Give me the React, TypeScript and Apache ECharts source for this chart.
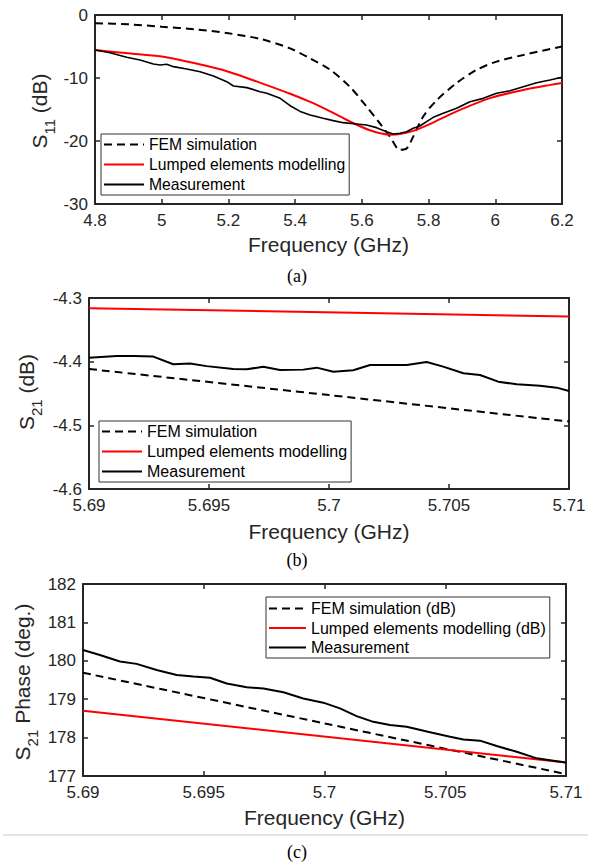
import React, { useEffect, useRef } from 'react';
import * as echarts from 'echarts';

// ---------- Panel (a): S11 ----------
const s11FemFreq = [4.8, 4.9, 5.0, 5.1, 5.2, 5.3, 5.385, 5.445, 5.505, 5.564, 5.615, 5.654, 5.684, 5.714, 5.734, 5.754, 5.784, 5.825, 5.884, 5.944, 6.004, 6.084, 6.2];
const s11FemDb = [-1.3, -1.48, -1.86, -2.27, -2.9, -3.86, -5.3, -6.9, -8.7, -11.4, -14.6, -17.2, -19.3, -21.4, -21.2, -19.3, -16.1, -13.5, -10.8, -8.7, -7.4, -6.35, -5.0];

const s11LumpFreq = [4.8, 4.9, 5.0, 5.1, 5.2, 5.3, 5.385, 5.445, 5.505, 5.564, 5.624, 5.684, 5.714, 5.754, 5.804, 5.884, 5.984, 6.084, 6.2];
const s11LumpDb = [-5.56, -6.08, -6.6, -7.67, -9.0, -10.85, -12.5, -13.8, -15.3, -16.9, -18.3, -19.0, -18.9, -18.4, -17.3, -15.3, -13.2, -11.9, -10.8];

const s11MeasFreq = [4.8, 4.845, 4.895, 4.935, 4.975, 4.995, 5.015, 5.035, 5.075, 5.115, 5.155, 5.195, 5.215, 5.255, 5.295, 5.315, 5.355, 5.385, 5.415, 5.445, 5.484, 5.514, 5.544, 5.584, 5.614, 5.644, 5.674, 5.694, 5.714, 5.734, 5.754, 5.774, 5.794, 5.814, 5.844, 5.884, 5.924, 5.964, 6.004, 6.044, 6.084, 6.124, 6.164, 6.2];
const s11MeasDb = [-5.56, -5.98, -6.72, -7.14, -7.78, -7.94, -7.83, -8.2, -8.57, -9.0, -9.68, -10.58, -11.27, -11.53, -12.17, -12.43, -13.23, -14.4, -15.3, -15.87, -16.4, -16.77, -17.09, -17.3, -17.46, -17.88, -18.52, -18.89, -18.78, -18.52, -17.99, -17.62, -16.93, -16.24, -15.61, -14.81, -13.76, -13.23, -12.43, -12.01, -11.38, -10.74, -10.32, -9.89];

// ---------- Panel (b): S21 magnitude ----------
const s21FemFreq = [5.69, 5.7, 5.71];
const s21FemDb = [-4.4115, -4.4525, -4.494];

const s21LumpFreq = [5.69, 5.71];
const s21LumpDb = [-4.316, -4.329];

const s21MeasFreq = [5.69, 5.69115, 5.69185, 5.69268, 5.69351, 5.69421, 5.6949, 5.69601, 5.69657, 5.69726, 5.69796, 5.69893, 5.69949, 5.70018, 5.70101, 5.70171, 5.70324, 5.70407, 5.70476, 5.7056, 5.70629, 5.70705, 5.70782, 5.70879, 5.70949, 5.71];
const s21MeasDb = [-4.394, -4.391, -4.391, -4.392, -4.404, -4.403, -4.407, -4.4115, -4.412, -4.408, -4.413, -4.4125, -4.4094, -4.4157, -4.4136, -4.4052, -4.4052, -4.4005, -4.4078, -4.4183, -4.4209, -4.4314, -4.4356, -4.4377, -4.4408, -4.4461];

// ---------- Panel (c): S21 phase ----------
const phFemFreq = [5.69, 5.7, 5.71];
const phFemDeg = [179.69, 178.37, 177.05];

const phLumpFreq = [5.69, 5.71];
const phLumpDeg = [178.7, 177.35];

const phMeasFreq = [5.69, 5.6907, 5.69153, 5.69222, 5.69305, 5.69388, 5.69457, 5.69526, 5.69595, 5.69678, 5.69747, 5.6983, 5.69912, 5.69995, 5.70064, 5.70133, 5.70202, 5.70271, 5.7034, 5.70437, 5.7052, 5.70575, 5.70644, 5.70713, 5.70796, 5.70879, 5.70948, 5.71];
const phMeasDeg = [180.28, 180.15, 179.98, 179.92, 179.76, 179.63, 179.59, 179.56, 179.41, 179.31, 179.28, 179.18, 179.02, 178.91, 178.76, 178.56, 178.41, 178.33, 178.28, 178.14, 178.02, 177.95, 177.92, 177.78, 177.63, 177.46, 177.4, 177.35];

const legendAB = ['FEM simulation', 'Lumped elements modelling', 'Measurement'];
const legendC = ['FEM simulation (dB)', 'Lumped elements modelling (dB)', 'Measurement'];

const FONT = '"Liberation Sans", Arial, Helvetica, sans-serif';
const SERIF = '"Liberation Serif", "Times New Roman", serif';
const AX = '#262626';

const pair = (xs: number[], ys: number[]) => xs.map((x, i) => [x, ys[i]]);
const fmt = (v: number) => String(parseFloat(v.toFixed(4)));

function xAxes(gridIndex: number, min: number, max: number, interval: number, nameGap: number) {
  const common = {
    type: 'value', gridIndex, min, max, interval,
    axisLine: { show: true, onZero: false, lineStyle: { color: AX, width: 2 } },
    axisTick: { show: true, inside: true, length: 5, lineStyle: { color: AX, width: 1.5 } },
    splitLine: { show: false },
  };
  return [
    {
      ...common, position: 'bottom',
      name: 'Frequency (GHz)', nameLocation: 'middle', nameGap,
      nameTextStyle: { fontSize: 21, color: AX, fontFamily: FONT },
      axisLabel: { show: true, color: AX, fontSize: 17, fontFamily: FONT, margin: 8, showMinLabel: true, showMaxLabel: true, formatter: fmt },
    },
    { ...common, position: 'top', axisLabel: { show: false } },
  ];
}

function yAxes(gridIndex: number, min: number, max: number, interval: number) {
  const common = {
    type: 'value', gridIndex, min, max, interval,
    axisLine: { show: true, onZero: false, lineStyle: { color: AX, width: 2 } },
    axisTick: { show: true, inside: true, length: 5, lineStyle: { color: AX, width: 1.5 } },
    splitLine: { show: false },
  };
  return [
    {
      ...common, position: 'left',
      axisLabel: { show: true, color: AX, fontSize: 17, fontFamily: FONT, margin: 7, showMinLabel: true, showMaxLabel: true, formatter: fmt },
    },
    { ...common, position: 'right', axisLabel: { show: false } },
  ];
}

function lineSeries(name: string, data: number[][], idx: number, kind: 'fem' | 'lump' | 'meas', width = 2) {
  const base: any = {
    type: 'line', name, data, xAxisIndex: idx, yAxisIndex: idx,
    symbol: 'none', showSymbol: false, z: 3,
  };
  if (kind === 'fem') {
    base.lineStyle = { color: '#000', width: 2, type: [8, 5] };
    base.itemStyle = { color: '#000' };
    base.smooth = 0.3;
  } else if (kind === 'lump') {
    base.lineStyle = { color: '#ff0000', width: 2 };
    base.itemStyle = { color: '#ff0000' };
    base.smooth = 0.3;
  } else {
    base.lineStyle = { color: '#000', width };
    base.itemStyle = { color: '#000' };
  }
  return base;
}

function legend(data: string[], left: number, top: number, fontSize: number, itemWidth: number, itemGap: number, padTop: number) {
  return {
    data, left, top, orient: 'vertical',
    itemWidth, itemHeight: 14, itemGap,
    padding: [padTop, 4, 2, 2],
    backgroundColor: '#ffffff',
    borderColor: '#333333', borderWidth: 1,
    itemStyle: { color: 'rgba(0,0,0,0)', borderWidth: 0 },
    textStyle: { fontSize, color: '#000', fontFamily: FONT, lineHeight: 17 },
    selectedMode: false,
  };
}

function yLabel(x: number, y: number, sub: string, rest: string) {
  return {
    type: 'text', x, y, rotation: Math.PI / 2, z: 10,
    style: {
      text: `{m|S}{s|${sub}}{m|${rest}}`,
      align: 'center', verticalAlign: 'middle',
      rich: {
        m: { fontSize: 21, fontFamily: FONT, fill: AX, lineHeight: 22 },
        s: { fontSize: 15, fontFamily: FONT, fill: AX, lineHeight: 14, padding: [20, 0, 0, 0] },
      },
    },
  };
}

function caption(text: string, y: number) {
  return {
    type: 'text', x: 297, y, z: 10,
    style: { text, fontSize: 18, fontFamily: SERIF, fill: '#000', align: 'center', verticalAlign: 'middle' },
  };
}

export default function App() {
  const ref = useRef<HTMLDivElement>(null);
  useEffect(() => {
    if (!ref.current) return;
    const chart = echarts.init(ref.current, null, { renderer: 'svg' });
    const option: any = {
      animation: false,
      backgroundColor: '#ffffff',
      grid: [
        { left: 95, top: 15, width: 467, height: 189, containLabel: false },
        { left: 89, top: 298, width: 480, height: 191, containLabel: false },
        { left: 83, top: 584, width: 483, height: 192, containLabel: false },
      ],
      xAxis: [
        ...xAxes(0, 4.8, 6.2, 0.2, 30),
        ...xAxes(1, 5.69, 5.71, 0.005, 32),
        ...xAxes(2, 5.69, 5.71, 0.005, 31),
      ],
      yAxis: [
        ...yAxes(0, -30, 0, 10),
        ...yAxes(1, -4.6, -4.3, 0.1),
        ...yAxes(2, 177, 182, 1),
      ],
      legend: [
        legend(legendAB, 101, 134, 15.7, 40, 3, 2),
        legend(legendAB, 99, 421, 16, 40, 3, 2),
        legend(legendC, 266, 597, 16, 37, 2.5, 3),
      ],
      series: [
        lineSeries('FEM simulation', pair(s11FemFreq, s11FemDb), 0, 'fem'),
        lineSeries('Lumped elements modelling', pair(s11LumpFreq, s11LumpDb), 0, 'lump'),
        lineSeries('Measurement', pair(s11MeasFreq, s11MeasDb), 0, 'meas', 1.6),
        lineSeries('FEM simulation', pair(s21FemFreq, s21FemDb), 2, 'fem'),
        lineSeries('Lumped elements modelling', pair(s21LumpFreq, s21LumpDb), 2, 'lump'),
        lineSeries('Measurement', pair(s21MeasFreq, s21MeasDb), 2, 'meas', 2),
        lineSeries('FEM simulation (dB)', pair(phFemFreq, phFemDeg), 4, 'fem'),
        lineSeries('Lumped elements modelling (dB)', pair(phLumpFreq, phLumpDeg), 4, 'lump'),
        lineSeries('Measurement', pair(phMeasFreq, phMeasDeg), 4, 'meas', 2),
      ],
      graphic: [
        yLabel(39, 111, '11', ' (dB)'),
        yLabel(26, 392, '21', ' (dB)'),
        yLabel(22, 682, '21', ' Phase (deg.)'),
        caption('(a)', 276),
        caption('(b)', 560),
        caption('(c)', 852),
        {
          type: 'line', z: 1,
          shape: { x1: 3, y1: 835, x2: 588, y2: 835 },
          style: { stroke: '#e4e4e4', lineWidth: 2 },
        },
      ],
    };
    chart.setOption(option);
    return () => chart.dispose();
  }, []);
  return (
    <div
      ref={ref}
      style={{ position: 'absolute', left: 0, top: 0, width: 591, height: 863, background: '#fff' }}
    />
  );
}
